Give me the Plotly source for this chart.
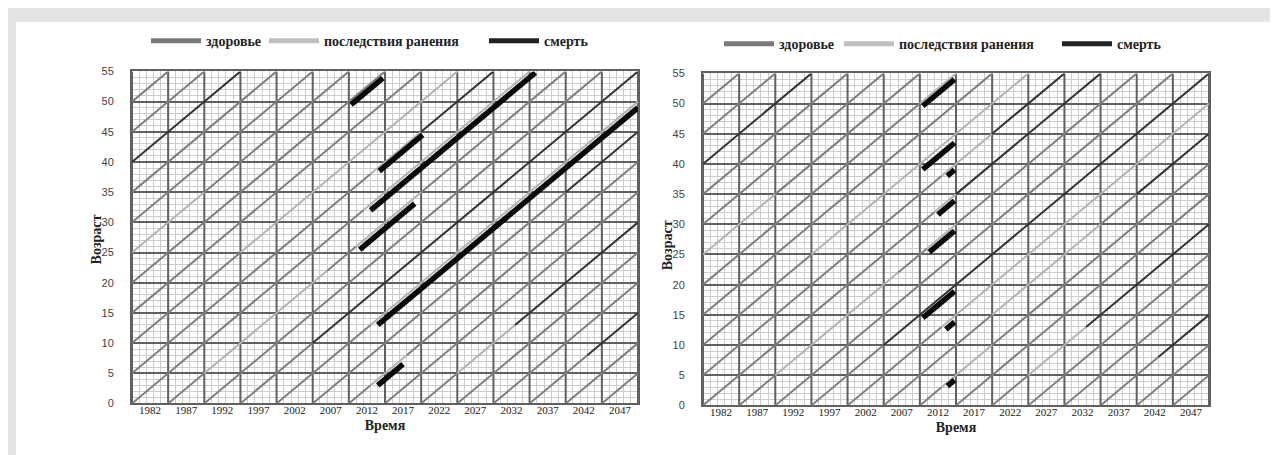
import plotly.graph_objects as go

# ---------------- data ----------------
YEAR_START, YEAR_END = 1980, 2050
AGE_MAX = 55
COHORTS = list(range(1925, 2050, 5))            # birth years of diagonal life-lines
TICK_LABELS = ["1982", "1987", "1992", "1997", "2002", "2007", "2012",
               "2017", "2022", "2027", "2032", "2037", "2042", "2047"]
AGE_TICKS = list(range(0, 56, 5))
STATE_NAMES = ["здоровье", "последствия ранения", "смерть"]
AXIS_TITLES = {"x": "Время", "y": "Возраст"}

# (birth year, from year, to year)
LEFT_INJURY = [(1955, 1980, 1990), (1970, 1995, 2025), (1985, 1990, 2007), (1985, 2011, 2020),
               (1980, 2012, 2035), (1975, 2013, 2020), (2000, 2013, 2050), (2010, 2013, 2018),
               (2020, 2025, 2033)]
LEFT_DEATH = [(1940, 1980, 1995), (1975, 2020, 2030), (1995, 2005, 2050), (2005, 2040, 2050),
              (2020, 2033, 2050), (2035, 2043, 2050)]
LEFT_THICK = [(1960.8, 2010.3, 2014.7), (1975.7, 2014.2, 2020.2), (1981.0, 2013.0, 2035.8),
              (1986.0, 2011.5, 2019.1), (2001.0, 2014.0, 2050.0), (2011.0, 2014.0, 2017.5)]

RIGHT_INJURY = [(1955, 1980, 1990), (1970, 1995, 2025), (1985, 1990, 2007), (1960, 2010, 2015),
                (1975, 2013, 2020), (1980, 2012, 2015), (1985, 2011, 2015), (2000, 2013, 2050),
                (2010, 2013, 2020), (2005, 2020, 2035), (2020, 2025, 2033)]
RIGHT_DEATH = [(1940, 1980, 1995), (1975, 2020, 2030), (1980, 2015, 2035), (1995, 2005, 2050),
               (2005, 2040, 2050), (2020, 2033, 2050), (2035, 2043, 2050)]
RIGHT_THICK = [(1960.8, 2010.4, 2014.8), (1971.3, 2010.4, 2014.8), (1975.8, 2013.8, 2014.8),
               (1980.9, 2012.5, 2014.8), (1985.9, 2011.3, 2014.8), (1995.9, 2010.4, 2014.8),
               (2001.0, 2013.6, 2014.8), (2010.6, 2013.8, 2014.8)]

# ---------------- styles ----------------
C_HEALTH = "#7e7e7e"
C_INJURY = "#b2b2b2"
C_DEATH = "#333333"
C_THICK = "#0a0a0a"
C_MAJOR = "#606060"
C_MINOR = "#cdcdcd"
SERIF = "Liberation Serif, Times New Roman, serif"
SANS = "Liberation Sans, Arial, sans-serif"
W, H = 1278, 455


def build_state_lines(injury, death):
    out = {"health": ([], []), "injury": ([], []), "death": ([], [])}
    for b in COHORTS:
        t0 = max(YEAR_START, b)
        t1 = min(YEAR_END, b + AGE_MAX)
        if t1 <= t0:
            continue
        specials = [(a, c, "injury") for (bb, a, c) in injury if bb == b] + \
                   [(a, c, "death") for (bb, a, c) in death if bb == b]
        pts = {t0, t1}
        for a, c, _ in specials:
            for v in (a, c):
                if t0 < v < t1:
                    pts.add(v)
        pts = sorted(pts)
        for p, q in zip(pts[:-1], pts[1:]):
            mid = (p + q) / 2
            st = "health"
            for a, c, s in specials:
                if a <= mid <= c:
                    st = s
            xs, ys = out[st]
            xs += [p, q, None]
            ys += [p - b, q - b, None]
    return out


def build_thick(thick):
    xs, ys = [], []
    for b, a, c in thick:
        xs += [a, c, None]
        ys += [a - b, c - b, None]
    return xs, ys


def build_vertical():
    xs, ys = [], []
    for t in range(YEAR_START, YEAR_END + 1, 5):
        xs += [t, t, None]
        ys += [0, AGE_MAX, None]
    return xs, ys


fig = go.Figure()

LEGEND_COLORS = ("#7a7a7a", "#c0c0c0", "#222222")
panels = [("x", "y", LEFT_INJURY, LEFT_DEATH, LEFT_THICK, ("legend", "legend2", "legend3")),
          ("x2", "y2", RIGHT_INJURY, RIGHT_DEATH, RIGHT_THICK, ("legend4", "legend5", "legend6"))]

for xa, ya, inj, dth, thk, legs in panels:
    vx, vy = build_vertical()
    fig.add_trace(go.Scatter(x=vx, y=vy, xaxis=xa, yaxis=ya, mode="lines",
                             line=dict(color=C_MAJOR, width=2), showlegend=False, hoverinfo="skip"))
    lines = build_state_lines(inj, dth)
    for key, col in (("health", C_HEALTH), ("injury", C_INJURY), ("death", C_DEATH)):
        xs, ys = lines[key]
        fig.add_trace(go.Scatter(x=xs, y=ys, xaxis=xa, yaxis=ya, mode="lines",
                                 line=dict(color=col, width=2), showlegend=False, hoverinfo="skip"))
    tx, ty = build_thick(thk)
    fig.add_trace(go.Scatter(x=tx, y=ty, xaxis=xa, yaxis=ya, mode="lines",
                             line=dict(color=C_THICK, width=5.5), showlegend=False, hoverinfo="skip"))
    for name, col, leg in zip(STATE_NAMES, LEGEND_COLORS, legs):
        fig.add_trace(go.Scatter(x=[None], y=[None], xaxis=xa, yaxis=ya, mode="lines",
                                 name=name, line=dict(color=col, width=5),
                                 legend=leg, showlegend=True))

centers = [YEAR_START + 2.5 + 5 * i for i in range(len(TICK_LABELS))]
title_font = dict(family=SERIF, size=14, color="#222", weight="bold")


def xaxis_cfg(x0, x1, anchor):
    return dict(domain=[x0 / W, x1 / W], range=[YEAR_START, YEAR_END], anchor=anchor,
                tickmode="array", tickvals=centers, ticktext=TICK_LABELS,
                showgrid=False, zeroline=False, ticks="", ticklabelstandoff=-5,
                tickfont=dict(family=SERIF, size=11, color="#222"),
                minor=dict(tick0=YEAR_START, dtick=1, showgrid=True, gridcolor=C_MINOR, gridwidth=1),
                showline=True, linecolor=C_MAJOR, linewidth=2, mirror=True,
                title=dict(text=AXIS_TITLES["x"], font=title_font, standoff=6))


def yaxis_cfg(top, bottom, anchor):
    return dict(domain=[(H - bottom) / H, (H - top) / H], range=[0, AGE_MAX], anchor=anchor,
                tickmode="array", tickvals=AGE_TICKS, showgrid=True, gridcolor=C_MAJOR, gridwidth=2,
                zeroline=False, ticks="", ticklabelstandoff=14,
                tickfont=dict(family=SANS, size=11, color="#444"),
                minor=dict(tick0=0, dtick=1, showgrid=True, gridcolor=C_MINOR, gridwidth=1),
                showline=True, linecolor=C_MAJOR, linewidth=2, mirror=True)


legend_font = dict(family=SERIF, size=14, color="#222", weight="bold")


def legend_cfg(text_x, y_px):
    return dict(orientation="h", x=(text_x - 69) / W, y=1 - y_px / H, xanchor="left", yanchor="middle",
                font=legend_font, bgcolor="rgba(0,0,0,0)", itemwidth=50)


def ytitle(x_px, y_px):
    return dict(text=AXIS_TITLES["y"], xref="paper", yref="paper", x=x_px / W, y=1 - y_px / H,
                textangle=-90, showarrow=False, font=title_font, xanchor="right", yanchor="middle")


fig.update_layout(
    width=W, height=H, margin=dict(l=0, r=0, t=0, b=0),
    paper_bgcolor="#e2e4e4", plot_bgcolor="white",
    xaxis=xaxis_cfg(124, 630, "y"), yaxis=yaxis_cfg(59, 400, "x"),
    xaxis2=xaxis_cfg(695, 1201, "y2"), yaxis2=yaxis_cfg(61, 402, "x2"),
    legend=legend_cfg(207, 28), legend2=legend_cfg(325, 28), legend3=legend_cfg(545, 28),
    legend4=legend_cfg(780, 31), legend5=legend_cfg(900, 31), legend6=legend_cfg(1118, 31),
    annotations=[ytitle(98, 232), ytitle(669, 238)],
    shapes=[dict(type="rect", xref="paper", yref="paper", x0=8 / W, x1=1268 / W,
                 y0=-0.05, y1=1 - 8 / H, fillcolor="white", line=dict(width=0), layer="below")],
)

fig.write_html("out.html")
